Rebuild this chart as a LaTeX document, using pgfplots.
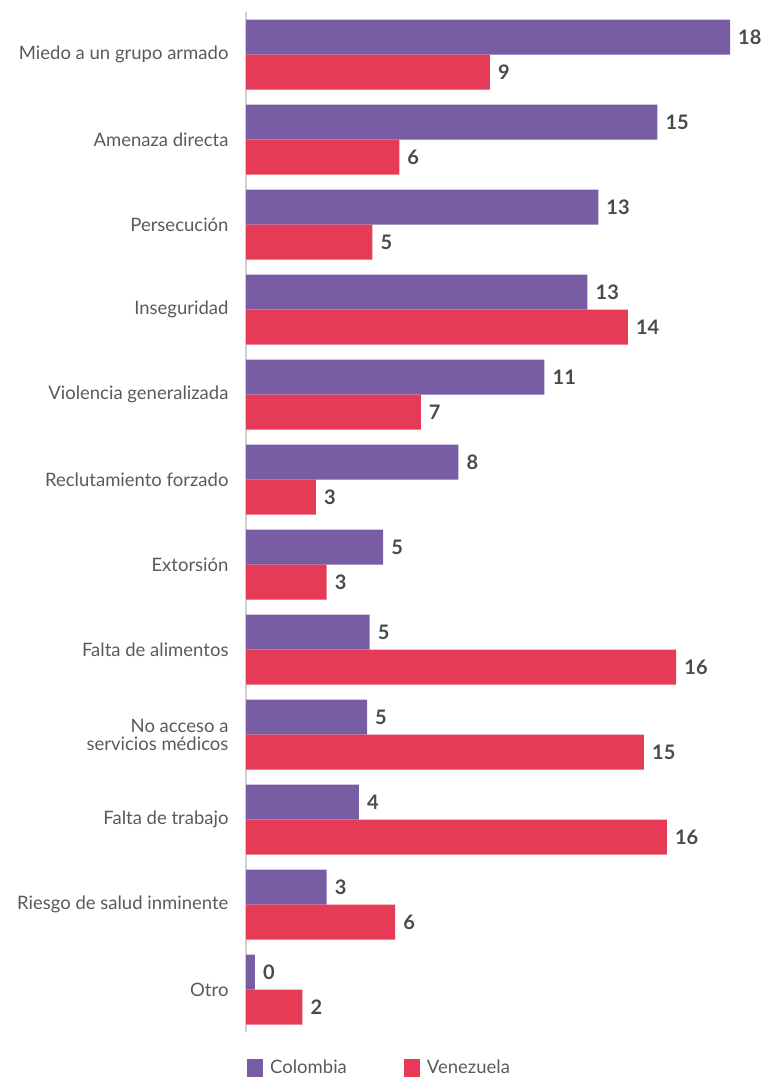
\documentclass[border=0pt]{standalone}
\usepackage{fontspec}
\setmainfont{Lato}
\usepackage{pgfplots}
\usepackage{pgfplotstable}
\pgfplotsset{compat=1.18}
\definecolor{colp}{HTML}{785DA5}
\definecolor{colr}{HTML}{E63B57}
\definecolor{labgray}{HTML}{5A5A5A}
\definecolor{numgray}{HTML}{4A4A4A}
\definecolor{axgray}{HTML}{D0D0D0}

\pgfplotstableread{
i v l
0 18.0 18
1 15.3 15
2 13.1 13
3 12.7 13
4 11.1 11
5 7.9 8
6 5.1 5
7 4.6 5
8 4.5 5
9 4.2 4
10 3.0 3
11 0.33 0
}\colombia

\pgfplotstableread{
i v l
0 9.07 9
1 5.7 6
2 4.7 5
3 14.2 14
4 6.5 7
5 2.6 3
6 3.0 3
7 16.0 16
8 14.8 15
9 15.65 16
10 5.55 6
11 2.1 2
}\venezuela

\begin{document}
\begin{tikzpicture}[x=1pt,y=1pt]
\useasboundingbox (0,0) rectangle (762,1078);
\begin{axis}[
  at={(246pt,46pt)}, anchor=south west,
  scale only axis, width=484pt, height=1020pt,
  xbar, bar width=35pt,
  xmin=0, xmax=18,
  ymin=-0.5, ymax=11.5, y dir=reverse,
  hide x axis,
  axis y line*=left,
  y axis line style={draw=axgray, line width=1.5pt},
  ytick={0,...,11},
  yticklabels={Miedo a un grupo armado, Amenaza directa, Persecución, Inseguridad, Violencia generalizada, Reclutamiento forzado, Extorsión, Falta de alimentos, {No acceso a\\servicios médicos}, Falta de trabajo, Riesgo de salud inminente, Otro},
  major tick length=0pt,
  ytick style={draw=none},
  yticklabel style={font=\fontsize{18.5}{18}\selectfont, text=labgray, align=right, xshift=-14pt},
  nodes near coords,
  point meta=explicit symbolic,
  every node near coord/.append style={font=\fontsize{20}{20}\selectfont\bfseries, text=numgray, anchor=west, inner sep=0pt, xshift=8pt},
  clip=false,
  legend columns=2,
  legend style={draw=none, fill=none, at={(axis description cs:0,0)}, anchor=north west, yshift=-24pt, xshift=-2pt,
    font=\fontsize{18.5}{18}\selectfont, text=labgray,
    /tikz/every even column/.append style={column sep=50pt},
    nodes={inner xsep=7pt}},
  legend image code/.code={\fill[#1] (0pt,-9pt) rectangle (16pt,9pt);},
]
\addplot[fill=colp, draw=none, bar shift=17.5pt] table[x=v, y=i, meta=l] {\colombia};
\addplot[fill=colr, draw=none, bar shift=-17.5pt] table[x=v, y=i, meta=l] {\venezuela};
\legend{Colombia, Venezuela}
\end{axis}
\end{tikzpicture}
\end{document}
